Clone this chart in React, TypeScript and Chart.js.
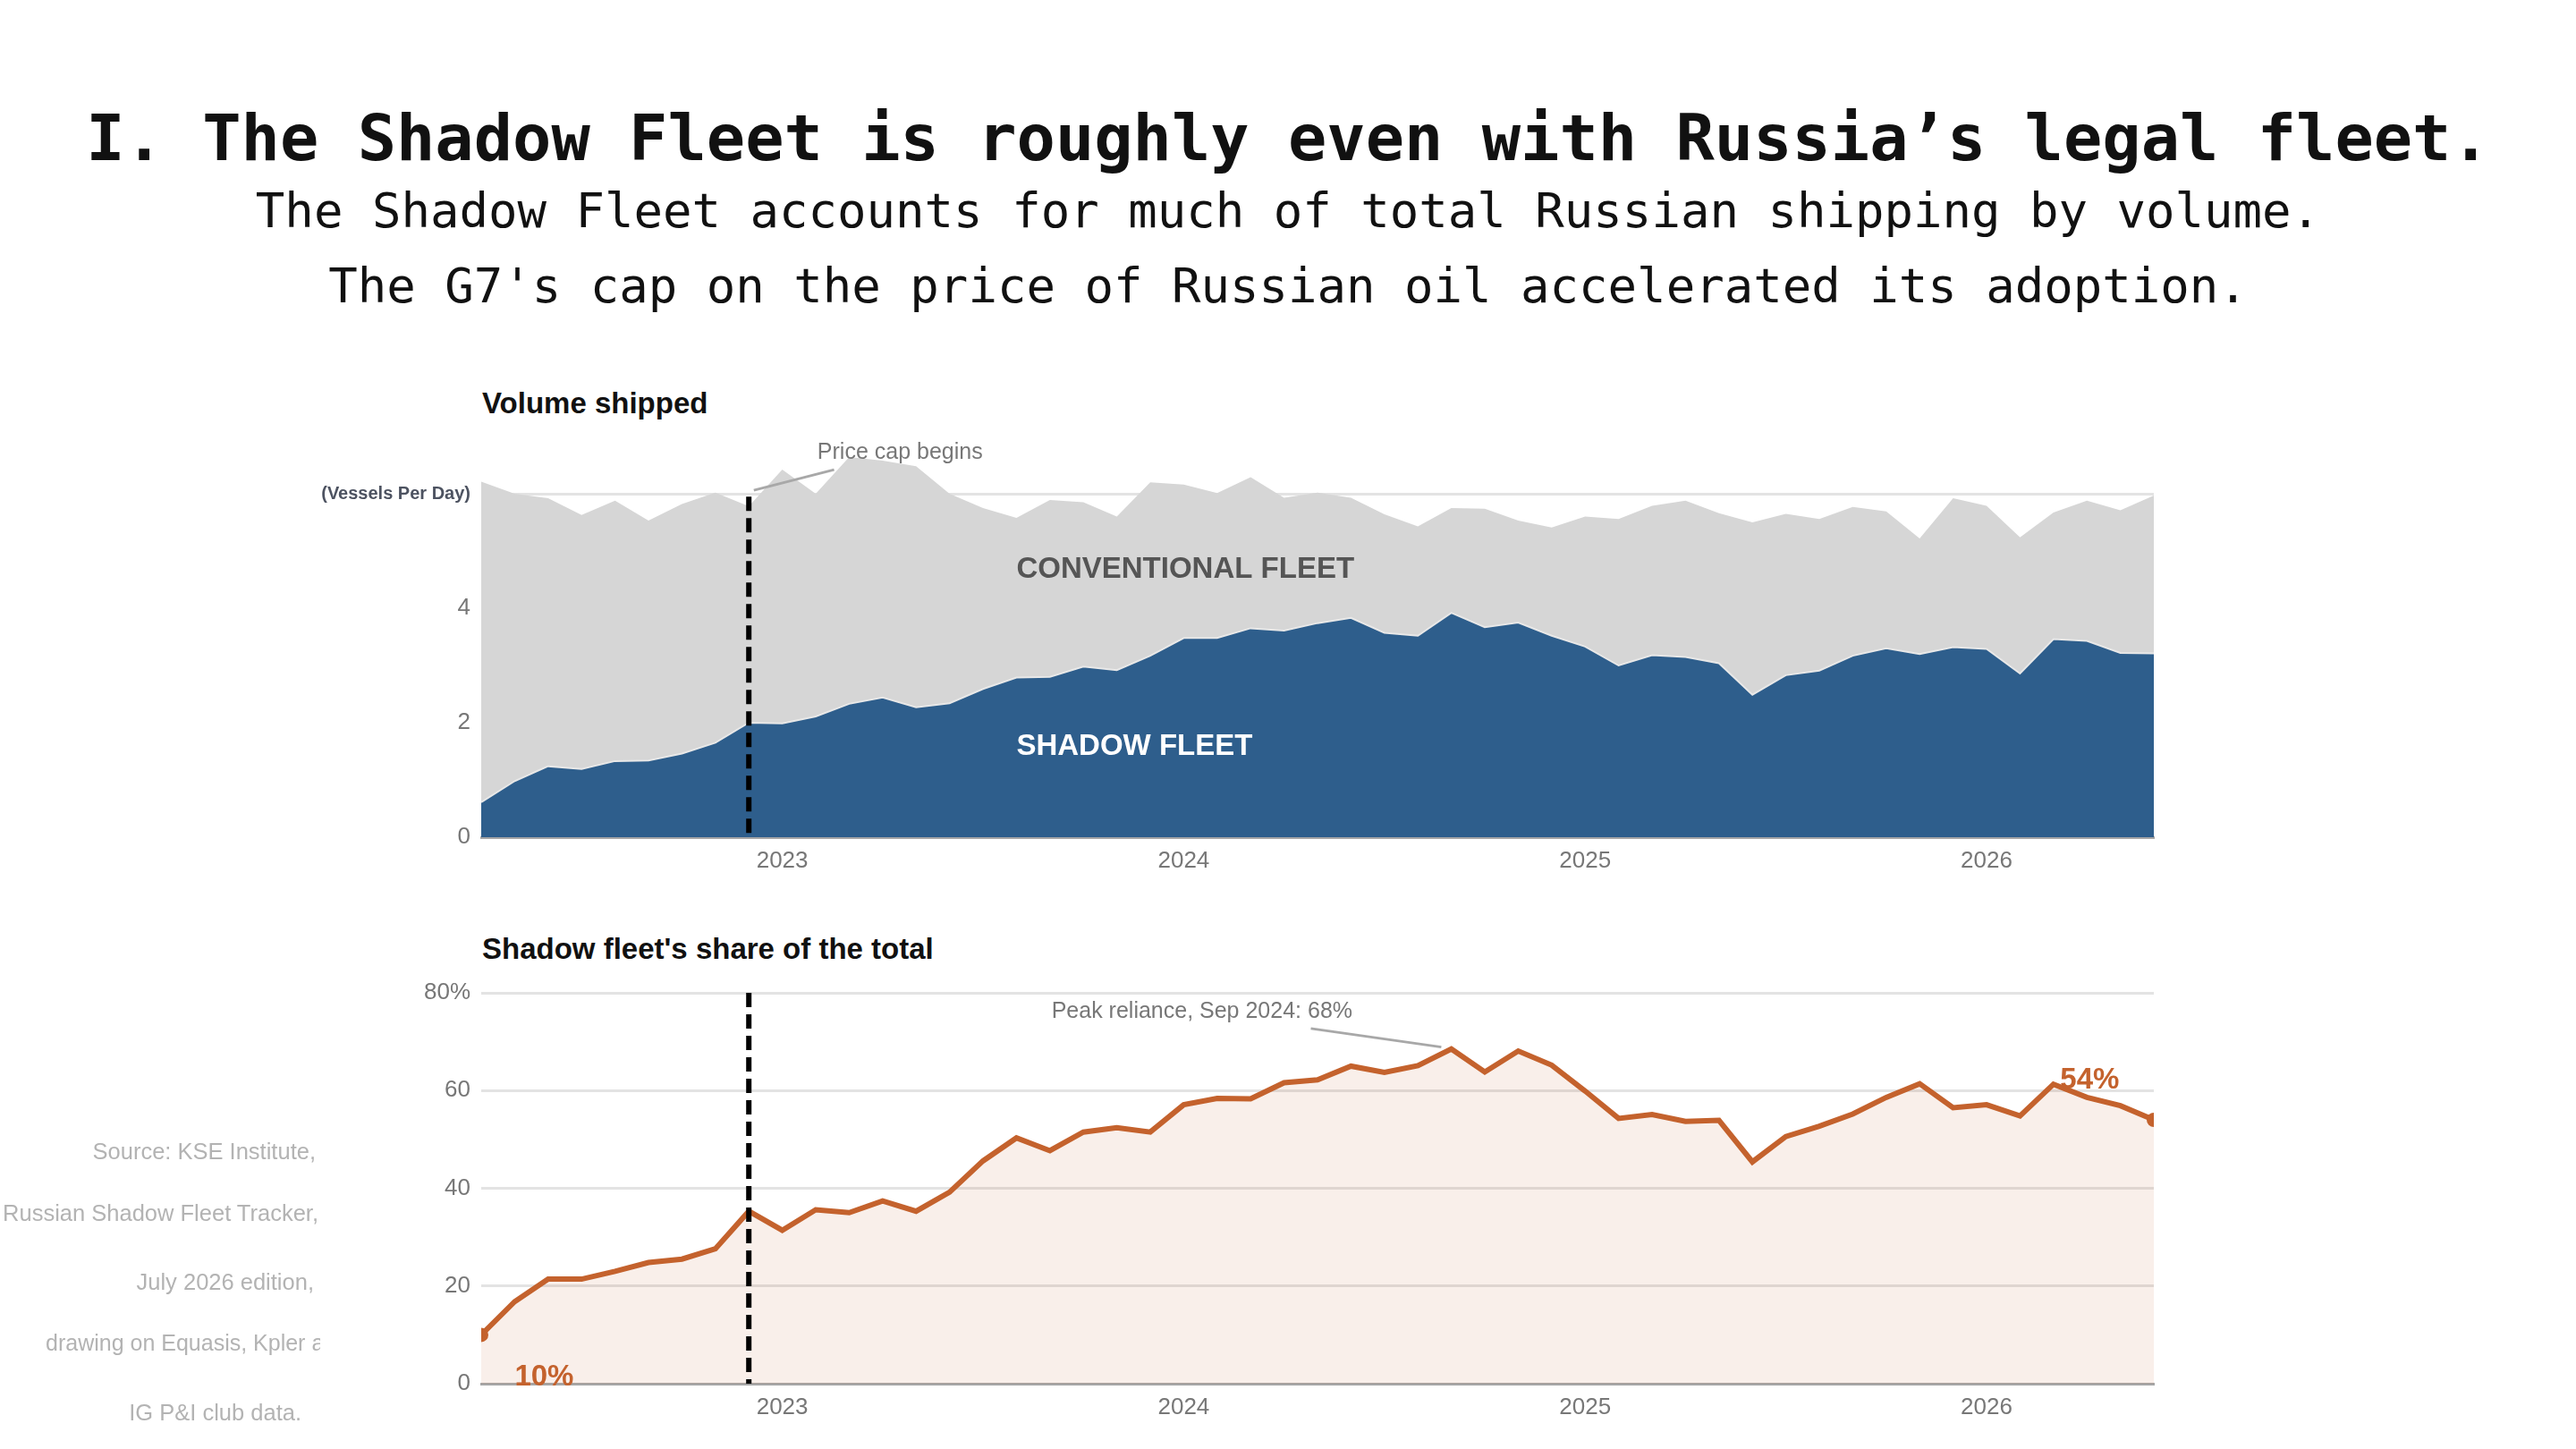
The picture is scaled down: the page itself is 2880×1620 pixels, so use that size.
import React, { useEffect, useRef } from "react";
import { Chart, registerables } from "chart.js";

Chart.register(...registerables);

// months Apr 2022 .. Jun 2026
const months: string[] = [];
for (let y = 2022; y <= 2026; y++) {
  for (let m = 1; m <= 12; m++) {
    if ((y === 2022 && m < 4) || (y === 2026 && m > 6)) continue;
    months.push(`${y}-${String(m).padStart(2, "0")}`);
  }
}

// vessels per day
const shadowFleet = [
  0.61, 0.98, 1.24, 1.19, 1.33, 1.34, 1.46, 1.65, 2.0, 1.99, 2.11, 2.33, 2.44,
  2.27, 2.34, 2.59, 2.79, 2.8, 2.98, 2.92, 3.17, 3.48, 3.48, 3.65, 3.61, 3.74,
  3.83, 3.57, 3.52, 3.92, 3.67, 3.75, 3.52, 3.33, 3.0, 3.18, 3.15, 3.04, 2.49,
  2.83, 2.91, 3.17, 3.3, 3.2, 3.32, 3.29, 2.86, 3.46, 3.43, 3.22, 3.21
];
const totalFleet = [
  6.21, 6.0, 5.92, 5.63, 5.88, 5.53, 5.82, 6.02, 5.78, 6.42, 6.0, 6.64, 6.58,
  6.48, 6.0, 5.75, 5.58, 5.89, 5.85, 5.6, 6.2, 6.16, 6.01, 6.29, 5.93, 6.02,
  5.93, 5.64, 5.43, 5.75, 5.74, 5.53, 5.41, 5.6, 5.56, 5.79, 5.88, 5.66, 5.5,
  5.65, 5.56, 5.77, 5.69, 5.22, 5.92, 5.79, 5.24, 5.67, 5.88, 5.71, 5.97
];
// shadow fleet share, %
const shadowShare = [
  10.0, 16.8, 21.4, 21.4, 23.0, 24.8, 25.5, 27.6, 35.3, 31.4, 35.6, 35.0, 37.4,
  35.3, 39.2, 45.6, 50.3, 47.7, 51.5, 52.4, 51.5, 57.1, 58.4, 58.3, 61.6, 62.2,
  65.0, 63.7, 65.1, 68.5, 63.8, 68.1, 65.2, 59.9, 54.3, 55.1, 53.7, 53.9, 45.4,
  50.6, 52.7, 55.2, 58.6, 61.4, 56.5, 57.1, 54.8, 61.3, 58.6, 56.9, 54.0
];

const volumeTicks = [0, 2, 4, 6];
const shareTicks = [0, 20, 40, 60, 80];
const priceCapIndex = 8; // Dec 2022
const peakIndex = 29; // Sep 2024

const SANS = "'Liberation Sans', Arial, sans-serif";
const MONO = "'DejaVu Sans Mono', 'Liberation Mono', monospace";
const BLUE = "#2e5e8c";
const GREY_AREA = "#d6d6d6";
const ORANGE = "#c4622d";

function yearLabel(i: number) {
  const m = months[i];
  return m && m.endsWith("-01") ? m.slice(0, 4) : "";
}

function dashedLine(ctx: CanvasRenderingContext2D, x: number, y0: number, y1: number) {
  ctx.save();
  ctx.strokeStyle = "#000";
  ctx.lineWidth = 6;
  ctx.setLineDash([16, 8]);
  ctx.beginPath();
  ctx.moveTo(x, y0);
  ctx.lineTo(x, y1);
  ctx.stroke();
  ctx.restore();
}

function leader(ctx: CanvasRenderingContext2D, x0: number, y0: number, x1: number, y1: number) {
  ctx.save();
  ctx.strokeStyle = "#a8a8a8";
  ctx.lineWidth = 3;
  ctx.beginPath();
  ctx.moveTo(x0, y0);
  ctx.lineTo(x1, y1);
  ctx.stroke();
  ctx.restore();
}

function label(
  ctx: CanvasRenderingContext2D,
  text: string,
  x: number,
  y: number,
  font: string,
  color: string,
  baseline: CanvasTextBaseline = "middle"
) {
  ctx.save();
  ctx.font = font;
  ctx.fillStyle = color;
  ctx.textAlign = "left";
  ctx.textBaseline = baseline;
  ctx.fillText(text, x, y);
  ctx.restore();
}

const volumeNotes = {
  id: "volumeNotes",
  afterDatasetsDraw(chart: any) {
    const { ctx, scales } = chart;
    const x = scales.x, y = scales.y;
    dashedLine(ctx, x.getPixelForValue(priceCapIndex), y.getPixelForValue(5.95), y.getPixelForValue(0) + 3);
    leader(ctx, x.getPixelForValue(8.15), y.getPixelForValue(6.06), x.getPixelForValue(10.55), y.getPixelForValue(6.42));
    label(ctx, "Price cap begins", x.getPixelForValue(10.05), y.getPixelForValue(6.72), `25px ${SANS}`, "#777");
    label(ctx, "CONVENTIONAL FLEET", x.getPixelForValue(16), y.getPixelForValue(4.67), `bold 33px ${SANS}`, "#555");
    label(ctx, "SHADOW FLEET", x.getPixelForValue(16), y.getPixelForValue(1.58), `bold 33px ${SANS}`, "#fff");
  }
};

const shareNotes = {
  id: "shareNotes",
  afterDatasetsDraw(chart: any) {
    const { ctx, scales } = chart;
    const x = scales.x, y = scales.y;
    dashedLine(ctx, x.getPixelForValue(priceCapIndex), y.getPixelForValue(80), y.getPixelForValue(0));
    leader(ctx, x.getPixelForValue(24.8), y.getPixelForValue(72.7), x.getPixelForValue(peakIndex - 0.3), y.getPixelForValue(68.9));
    label(ctx, "Peak reliance, Sep 2024: 68%", x.getPixelForValue(17.05), y.getPixelForValue(76.2), `25px ${SANS}`, "#777");
    label(ctx, "10%", x.getPixelForValue(1.0), y.getPixelForValue(0) + 2, `bold 33px ${SANS}`, ORANGE, "alphabetic");
    label(ctx, "54%", x.getPixelForValue(47.2), y.getPixelForValue(60.4), `bold 33px ${SANS}`, ORANGE, "alphabetic");
  }
};

const tickFont = { family: SANS, size: 26 };

function fixY(width: number) {
  return (s: any) => {
    s.width = width;
    s.paddingTop = 0;
    s.paddingBottom = 0;
  };
}
function fixX(height: number) {
  return (s: any) => {
    s.height = height;
    s.paddingLeft = 0;
    s.paddingRight = 0;
  };
}

export default function App() {
  const volRef = useRef<HTMLCanvasElement | null>(null);
  const shareRef = useRef<HTMLCanvasElement | null>(null);

  useEffect(() => {
    if (!volRef.current || !shareRef.current) return;

    const vol = new Chart(volRef.current, {
      type: "line",
      data: {
        labels: months,
        datasets: [
          {
            label: "Shadow fleet",
            data: shadowFleet,
            fill: "origin",
            backgroundColor: BLUE,
            borderColor: "#e8e8e8",
            borderWidth: 2,
            pointRadius: 0,
            tension: 0
          },
          {
            label: "Total",
            data: totalFleet,
            fill: "-1",
            backgroundColor: GREY_AREA,
            borderColor: "rgba(0,0,0,0)",
            borderWidth: 1,
            pointRadius: 0,
            tension: 0
          }
        ]
      },
      options: {
        animation: false,
        responsive: true,
        maintainAspectRatio: false,
        layout: { padding: { top: 8, right: 32, left: 0, bottom: 0 } },
        plugins: { legend: { display: false }, tooltip: { enabled: false } },
        scales: {
          x: {
            grid: { display: false, drawTicks: false },
            border: { display: true, color: "#a6a6a6", width: 3 },
            ticks: {
              autoSkip: false,
              maxRotation: 0,
              padding: 11,
              color: "#777",
              font: tickFont,
              callback: (_v: any, i: number) => yearLabel(i)
            },
            afterFit: fixX(64)
          },
          y: {
            min: 0,
            max: 7,
            afterBuildTicks: (s: any) => {
              s.ticks = volumeTicks.map((value) => ({ value }));
            },
            grid: { color: "#e3e3e3", lineWidth: 3, drawTicks: false },
            border: { display: false },
            ticks: {
              padding: 12,
              color: (c: any) => (c.tick && c.tick.value === 6 ? "#4d5361" : "#777"),
              font: (c: any) =>
                c.tick && c.tick.value === 6
                  ? { family: SANS, size: 20, weight: "bold" }
                  : tickFont,
              callback: (v: any) => (v === 6 ? "(Vessels Per Day)" : String(v))
            },
            afterFit: fixY(238)
          }
        }
      },
      plugins: [volumeNotes]
    } as any);

    const last = shadowShare.length - 1;
    const share = new Chart(shareRef.current, {
      type: "line",
      data: {
        labels: months,
        datasets: [
          {
            label: "Share",
            data: shadowShare,
            fill: "origin",
            backgroundColor: "rgba(196,98,45,0.1)",
            borderColor: ORANGE,
            borderWidth: 6,
            pointRadius: (c: any) => (c.dataIndex === 0 || c.dataIndex === last ? 8 : 0),
            pointBackgroundColor: ORANGE,
            pointBorderWidth: 0,
            tension: 0,
            clip: { left: 0, right: 0, top: 12, bottom: 12 }
          }
        ]
      },
      options: {
        animation: false,
        responsive: true,
        maintainAspectRatio: false,
        layout: { padding: { top: 20, right: 32, left: 0, bottom: 0 } },
        plugins: { legend: { display: false }, tooltip: { enabled: false } },
        scales: {
          x: {
            grid: { display: false, drawTicks: false },
            border: { display: true, color: "#a6a6a6", width: 3 },
            ticks: {
              autoSkip: false,
              maxRotation: 0,
              padding: 11,
              color: "#777",
              font: tickFont,
              callback: (_v: any, i: number) => yearLabel(i)
            },
            afterFit: fixX(68)
          },
          y: {
            min: 0,
            max: 80,
            afterBuildTicks: (s: any) => {
              s.ticks = shareTicks.map((value) => ({ value }));
            },
            grid: { color: "#e3e3e3", lineWidth: 3, drawTicks: false },
            border: { display: false },
            ticks: {
              padding: 12,
              color: "#777",
              font: tickFont,
              callback: (v: any) => (v === 80 ? "80%" : String(v))
            },
            afterFit: fixY(238)
          }
        }
      },
      plugins: [shareNotes]
    } as any);

    return () => {
      vol.destroy();
      share.destroy();
    };
  }, []);

  const sourceLines = [
    { text: "Source: KSE Institute,", y: 1287, right: 353 },
    { text: "Russian Shadow Fleet Tracker,", y: 1356, right: 356 },
    { text: "July 2026 edition,", y: 1433, right: 351 },
    { text: "IG P&I club data.", y: 1579, right: 337 }
  ];

  return (
    <div
      style={{
        position: "absolute",
        left: 0,
        top: 0,
        width: 2880,
        height: 1620,
        background: "#fff",
        overflow: "hidden",
        color: "#111"
      }}
    >
      <div
        style={{
          position: "absolute",
          top: 114,
          width: 2880,
          textAlign: "center",
          font: `bold 72px ${MONO}`,
          lineHeight: "80px",
          whiteSpace: "nowrap"
        }}
      >
        I. The Shadow Fleet is roughly even with Russia’s legal fleet.
      </div>
      <div
        style={{
          position: "absolute",
          top: 206,
          width: 2880,
          textAlign: "center",
          font: `54px ${MONO}`,
          lineHeight: "60px",
          whiteSpace: "nowrap"
        }}
      >
        The Shadow Fleet accounts for much of total Russian shipping by volume.
      </div>
      <div
        style={{
          position: "absolute",
          top: 290,
          width: 2880,
          textAlign: "center",
          font: `54px ${MONO}`,
          lineHeight: "60px",
          whiteSpace: "nowrap"
        }}
      >
        The G7's cap on the price of Russian oil accelerated its adoption.
      </div>

      <div
        style={{
          position: "absolute",
          left: 539,
          top: 433,
          font: `bold 33px ${SANS}`,
          lineHeight: "36px"
        }}
      >
        Volume shipped
      </div>
      <div style={{ position: "absolute", left: 300, top: 480, width: 2140, height: 520 }}>
        <canvas ref={volRef} />
      </div>

      <div
        style={{
          position: "absolute",
          left: 539,
          top: 1043,
          font: `bold 33px ${SANS}`,
          lineHeight: "36px"
        }}
      >
        Shadow fleet's share of the total
      </div>
      <div style={{ position: "absolute", left: 300, top: 1090, width: 2140, height: 525 }}>
        <canvas ref={shareRef} />
      </div>

      <div
        style={{
          position: "absolute",
          left: 0,
          top: 0,
          width: 358,
          height: 1620,
          overflow: "hidden",
          font: `25.5px ${SANS}`,
          color: "#b3b3b3"
        }}
      >
        {sourceLines.map((l) => (
          <div
            key={l.text}
            style={{
              position: "absolute",
              right: 358 - l.right,
              top: l.y - 15,
              lineHeight: "30px",
              whiteSpace: "nowrap"
            }}
          >
            {l.text}
          </div>
        ))}
        <div
          style={{
            position: "absolute",
            left: 51,
            top: 1501 - 15,
            lineHeight: "30px",
            fontSize: 25,
            whiteSpace: "nowrap"
          }}
        >
          drawing on Equasis, Kpler and
        </div>
      </div>
    </div>
  );
}
